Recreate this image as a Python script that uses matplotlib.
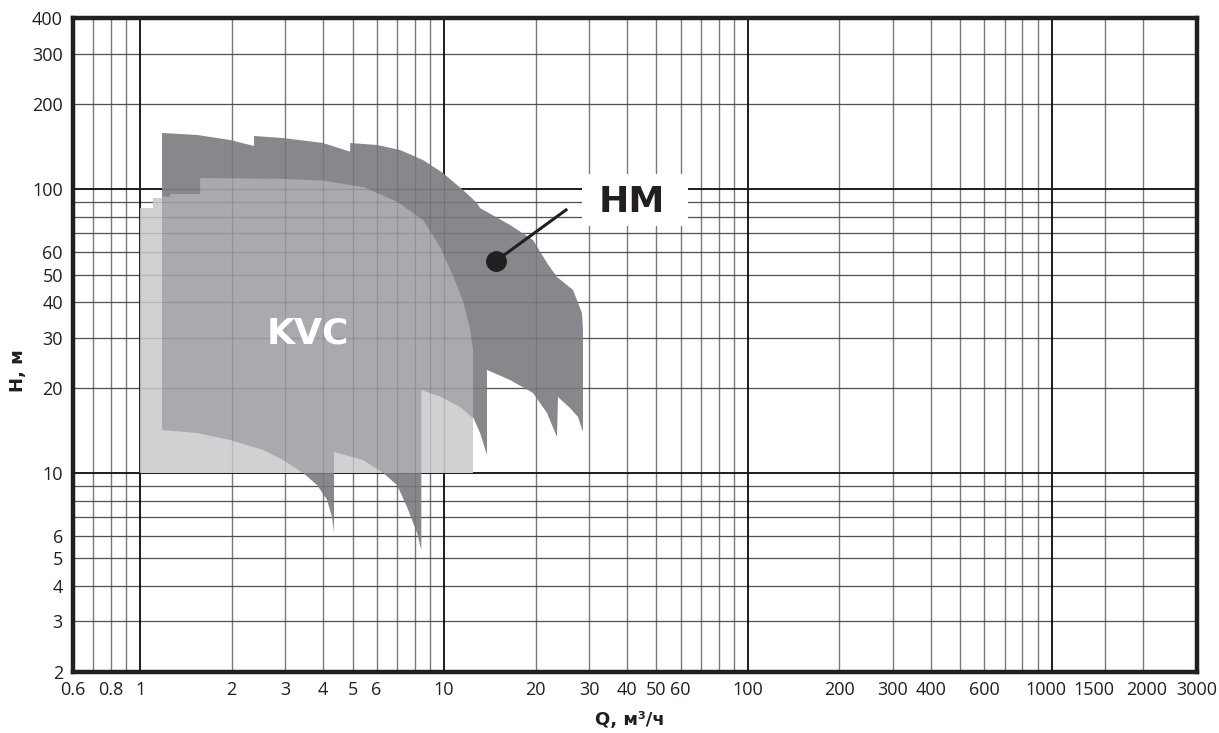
import matplotlib.pyplot as plt
from matplotlib.patches import Rectangle
from matplotlib.ticker import NullLocator
from matplotlib.transforms import ScaledTranslation

# HM range (dark), Q in m3/h, H in m
q_hm = [1.181, 1.54, 1.977, 2.371, 2.371, 2.954, 4.0, 4.908, 4.908, 6.02, 7.167,
        8.53, 9.92, 11.55, 12.84, 13.14, 16.49, 19.63, 21.82, 23.53, 26.57, 28.44,
        28.66, 28.66, 27.59, 25.97, 23.71, 23.53, 21.82, 19.63, 16.49, 13.85, 13.85,
        13.14, 12.46, 11.29, 9.70, 8.42, 8.42, 8.152, 7.556, 7.005, 6.302, 5.415,
        4.346, 4.346, 4.281, 4.123, 3.822, 3.438, 2.954, 2.539, 1.977, 1.54, 1.181]
h_hm = [157.5, 155.0, 148.8, 141.7, 153.7, 151.2, 145.2, 135.4, 145.2, 142.9, 137.2,
        126.5, 113.8, 99.2, 89.3, 85.7, 74.7, 66.1, 54.9, 49.0, 44.1, 36.6,
        31.9, 13.94, 15.75, 16.94, 18.52, 13.39, 16.27, 19.13, 21.26, 23.05, 11.57,
        13.83, 15.75, 17.08, 18.6, 19.6, 5.36, 6.15, 7.59, 9.07, 10.0, 11.11,
        11.86, 6.15, 7.0, 8.04, 9.07, 10.0, 11.11, 12.05, 13.07, 13.83, 14.17]

# KVC range, light part
q_light = [1.0, 1.0, 1.104, 1.104, 1.255, 1.255, 12.46, 12.46]
h_light = [10.0, 85.7, 85.7, 93.2, 93.2, 25.0, 25.0, 10.0]

# KVC range, middle part
q_mid = [1.181, 1.255, 1.255, 1.576, 1.576, 2.954, 4.0, 5.415, 7.005, 8.53, 9.70,
         10.70, 11.55, 12.18, 12.46, 12.46, 11.29, 9.70, 8.42, 8.42, 6.302, 5.415,
         4.346, 4.346, 3.438, 2.954, 2.539, 1.977, 1.54, 1.181]
h_mid = [93.9, 93.9, 96.0, 96.0, 109.3, 108.6, 107.0, 101.7, 90.2, 77.8, 62.6,
         49.5, 40.3, 32.1, 27.1, 15.6, 17.08, 18.6, 19.6, 10.0, 10.0, 11.11,
         11.86, 10.0, 10.0, 11.11, 12.05, 13.07, 13.83, 14.17]

x_ticks = [0.6, 0.8, 1, 2, 3, 4, 5, 6, 10, 20, 30, 40, 50, 60, 100, 200, 300, 400,
           600, 1000, 1500, 2000, 3000]
x_tick_labels = ['0.6', '0.8', '1', '2', '3', '4', '5', '6', '10', '20', '30', '40',
                 '50', '60', '100', '200', '300', '400', '600', '1000', '1500', '2000', '3000']
y_ticks = [2, 3, 4, 5, 6, 10, 20, 30, 40, 50, 60, 100, 200, 300, 400]
y_tick_labels = [str(v) for v in y_ticks]

x_grid_major = [1, 10, 100, 1000]
x_grid_minor = [0.7, 0.8, 0.9] + [k * d for d in (1, 10, 100) for k in range(2, 10)] + [1500, 2000]
y_grid_major = [10, 100]
y_grid_minor = [3, 4, 5, 6, 7, 8, 9, 20, 30, 40, 50, 60, 70, 80, 90, 200, 300]

ink = '#231f20'
plt.rcParams['font.family'] = ['Open Sans', 'DejaVu Sans']

fig = plt.figure(figsize=(12.19, 7.33), dpi=100)
ax = fig.add_axes([0.0596, 0.0839, 0.9223, 0.8915])
ax.set_xscale('log')
ax.set_yscale('log')
ax.set_xlim(0.6, 3000)
ax.set_ylim(2, 400)

# grid under the fills
for v in x_grid_minor:
    ax.axvline(v, color='#8a8a8a', lw=1.0, zorder=0)
for v in y_grid_minor:
    ax.axhline(v, color='#5e5e5e', lw=0.9, zorder=0)
for v in x_grid_major:
    ax.axvline(v, color=ink, lw=1.4, zorder=0)
for v in y_grid_major:
    ax.axhline(v, color=ink, lw=1.4, zorder=0)

ax.fill(q_hm, h_hm, color='#87888c', lw=0, zorder=1)
ax.fill(q_light, h_light, color='#d0d1d3', lw=0, zorder=2)
ax.fill(q_mid, h_mid, color='#a9aaae', lw=0, zorder=3)

# faint grid seen through the fills
for v in x_grid_minor + x_grid_major:
    ax.axvline(v, color='k', alpha=0.12, lw=0.9, zorder=4)
for v in y_grid_minor + y_grid_major:
    ax.axhline(v, color='k', alpha=0.12, lw=0.9, zorder=4)

# HM callout
ax.add_patch(Rectangle((28.5, 74.1), 63.3 - 28.5, 112.9 - 74.1,
                       facecolor='white', edgecolor='none', zorder=5))
ax.plot([14.83, 25.2], [55.8, 84.4], color=ink, lw=2.2, zorder=6)
ax.plot(14.83, 55.8, 'o', ms=14, color=ink, zorder=7)
ax.text(41.5, 90, 'HM', fontsize=26, fontweight='bold', family='DejaVu Sans',
        ha='center', va='center', color=ink, zorder=8)
ax.text(3.57, 31.1, 'KVC', fontsize=26, fontweight='bold', family='DejaVu Sans',
        ha='center', va='center', color='white', zorder=8)

ax.set_xticks(x_ticks)
ax.set_xticklabels(x_tick_labels)
ax.set_yticks(y_ticks)
ax.set_yticklabels(y_tick_labels)
ax.xaxis.set_minor_locator(NullLocator())
ax.yaxis.set_minor_locator(NullLocator())
ax.tick_params(length=0, labelsize=13, pad=7, colors=ink)

# crowded labels at the right end sit a bit off their lines
shifts = {'1000': -4.5, '1500': -8.5, '2000': 2.0}
for lab in ax.get_xticklabels():
    dx = shifts.get(lab.get_text())
    if dx:
        lab.set_transform(lab.get_transform() + ScaledTranslation(dx / 72, 0, fig.dpi_scale_trans))

for s in ax.spines.values():
    s.set_linewidth(3.2)
    s.set_color(ink)
    s.set_zorder(10)

ax.set_xlabel('Q, м³/ч', fontsize=13, fontweight='bold', family='DejaVu Sans', color=ink)
ax.xaxis.label.set_va('center')
ax.xaxis.set_label_coords(0.496, -0.0742)
ax.set_ylabel('H, м', fontsize=13, fontweight='bold', family='DejaVu Sans', color=ink)
ax.yaxis.label.set_va('center')
ax.yaxis.set_label_coords(-0.0486, 0.461)

fig.savefig('out.png', dpi=100)
